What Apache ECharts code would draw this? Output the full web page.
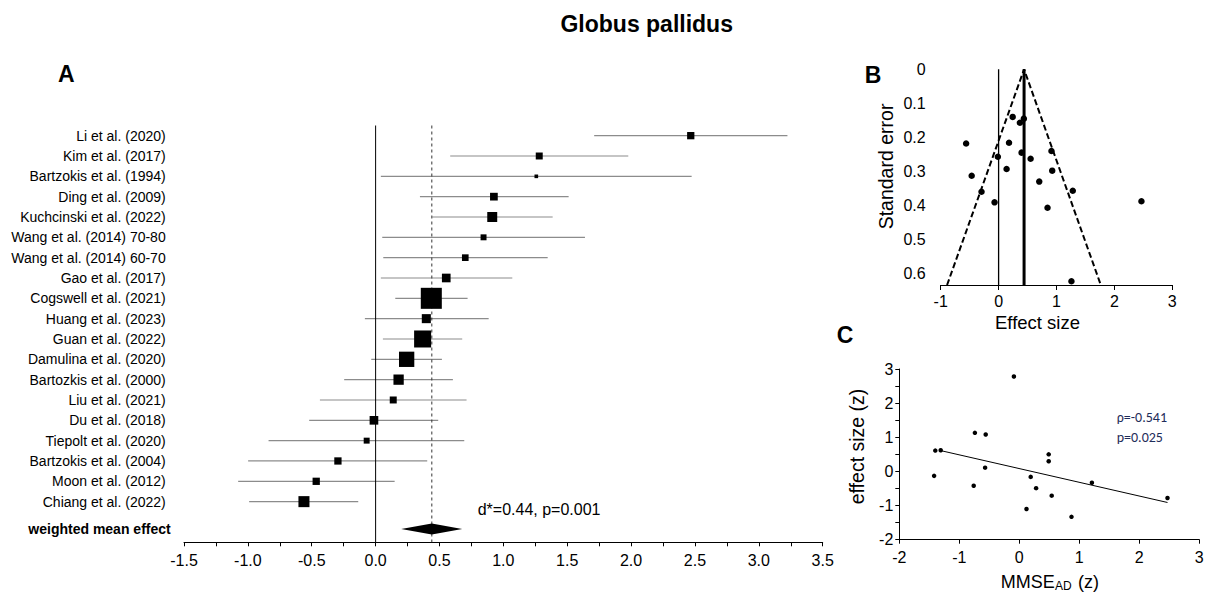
<!DOCTYPE html>
<html><head><meta charset="utf-8">
<script src="https://cdn.jsdelivr.net/npm/echarts@6/dist/echarts.min.js"></script>
<style>html,body{margin:0;padding:0;background:#fff}#c{width:1208px;height:593px}</style>
</head><body><div id="c"></div>
<script>
// ---------- Panel A: forest plot data ----------
const studies = ['Li et al. (2020)','Kim et al. (2017)','Bartzokis et al. (1994)','Ding et al. (2009)',
  'Kuchcinski et al. (2022)','Wang et al. (2014) 70-80','Wang et al. (2014) 60-70','Gao et al. (2017)',
  'Cogswell et al. (2021)','Huang et al. (2023)','Guan et al. (2022)','Damulina et al. (2020)',
  'Bartozkis et al. (2000)','Liu et al. (2021)','Du et al. (2018)','Tiepolt et al. (2020)',
  'Bartzokis et al. (2004)','Moon et al. (2012)','Chiang et al. (2022)'];
const effect = [2.467,1.281,1.258,0.926,0.913,0.845,0.702,0.553,0.436,0.397,0.368,0.243,0.180,0.138,-0.013,-0.070,-0.295,-0.465,-0.561];
const ciLow  = [1.711,0.584,0.041,0.347,0.443,0.052,0.060,0.041,0.154,-0.084,0.057,-0.034,-0.246,-0.436,-0.520,-0.838,-0.998,-1.076,-0.990];
const ciHigh = [3.224,1.978,2.474,1.511,1.386,1.639,1.347,1.070,0.720,0.885,0.678,0.519,0.605,0.712,0.490,0.694,0.404,0.149,-0.136];
const weight = [2.4,2.2,0.6,2.7,4.5,1.6,2.0,3.4,20.0,3.7,13.1,10.6,4.8,2.2,3.4,1.6,2.4,2.4,5.5]; // relative study weight (%)
const pooled = {d:0.44, low:0.20, high:0.678};
const forestTicks = {min:-1.5, max:3.5, step:0.5};

// ---------- Panel B: funnel plot data ----------
const stdErr = [0.388,0.357,0.623,0.298,0.240,0.407,0.330,0.263,0.145,0.245,0.157,0.140,0.216,0.293,0.257,0.391,0.360,0.313,0.218];
const funnelEdge = {bottomSE:0.634, leftX:-0.89, rightX:1.765};

// ---------- Panel C: meta-regression data ----------
const mmseZ = [-1.42,-1.40,-1.31,-0.74,-0.56,-0.76,-0.57,-0.09,0.19,0.28,0.49,0.49,0.54,0.12,0.87,1.21,2.47];
const esZ   = [-0.13,0.61,0.62,1.13,1.08,-0.42,0.11,2.78,-0.16,-0.49,0.50,0.30,-0.71,-1.10,-1.33,-0.33,-0.78];
const regLine = [[-1.31,0.61],[2.47,-0.91]];
const statText = ['ρ=-0.541','p=0.025'];

const FONT = '"Liberation Sans", Arial, Helvetica, sans-serif';
const chart = echarts.init(document.getElementById('c'), null, {renderer:'svg'});
const MEAN_ROW = 19.35;

const axisBlack = {lineStyle:{color:'#000', width:1}};

const option = {
  animation:false,
  backgroundColor:'#fff',
  textStyle:{fontFamily:FONT, color:'#000'},
  grid:[
    {left:184, top:125.5, width:638.7, height:416.8},
    {left:940.7, top:69.3, width:231.6, height:215.7},
    {left:899.3, top:369, width:300, height:170.7}
  ],
  xAxis:[
    {gridIndex:0, type:'value', min:forestTicks.min, max:forestTicks.max, interval:forestTicks.step,
     axisLine:{show:true, onZero:false, ...axisBlack}, axisTick:{show:true, length:4, ...axisBlack},
     minorTick:{show:true, splitNumber:2, length:4, ...axisBlack}, splitLine:{show:false},
     axisLabel:{fontSize:16, color:'#000', margin:10, fontFamily:FONT, formatter:v=>v.toFixed(1)}},
    {gridIndex:1, type:'value', min:-1, max:3, interval:1,
     axisLine:{show:true, onZero:false, ...axisBlack}, axisTick:{show:true, length:5, ...axisBlack},
     splitLine:{show:false}, axisLabel:{fontSize:16, color:'#000', margin:8, fontFamily:FONT}},
    {gridIndex:2, type:'value', min:-2, max:3, interval:1,
     axisLine:{show:true, onZero:false, ...axisBlack}, axisTick:{show:true, length:4, ...axisBlack},
     splitLine:{show:false}, axisLabel:{fontSize:16, color:'#000', margin:10, fontFamily:FONT}}
  ],
  yAxis:[
    {gridIndex:0, type:'value', inverse:true, min:-0.5, max:20, show:false},
    {gridIndex:1, type:'value', inverse:true, min:0, max:funnelEdge.bottomSE, interval:0.1,
     axisLine:{show:false}, axisTick:{show:false}, splitLine:{show:false},
     axisLabel:{fontSize:16, color:'#000', margin:15, fontFamily:FONT, showMaxLabel:false,
       formatter:v=> (Math.abs(v)<1e-9 ? '0' : v.toFixed(1))}},
    {gridIndex:2, type:'value', min:-2, max:3, interval:1,
     axisLine:{show:true, onZero:false, ...axisBlack}, axisTick:{show:true, length:4, ...axisBlack},
     minorTick:{show:true, splitNumber:2, length:4, ...axisBlack}, splitLine:{show:false},
     axisLabel:{fontSize:16, color:'#000', margin:6, fontFamily:FONT}}
  ],
  series:[
    // confidence intervals
    {type:'custom', xAxisIndex:0, yAxisIndex:0, z:2,
     data: studies.map((s,i)=>[ciLow[i], ciHigh[i], i]),
     encode:{x:[0,1], y:2},
     renderItem:(params, api)=>{
       const a = api.coord([api.value(0), api.value(2)]);
       const b = api.coord([api.value(1), api.value(2)]);
       return {type:'line', shape:{x1:a[0], y1:a[1], x2:b[0], y2:b[1]},
               style:{stroke:'#8c8c8c', lineWidth:1.2}};
     }},
    // zero line
    {type:'line', xAxisIndex:0, yAxisIndex:0, z:3, showSymbol:false, symbol:'none',
     data:[[0,-0.5],[0,20]], lineStyle:{color:'#000', width:1}},
    // pooled effect dashed line
    {type:'line', xAxisIndex:0, yAxisIndex:0, z:3, showSymbol:false, symbol:'none',
     data:[[pooled.d,-0.5],[pooled.d,20]], lineStyle:{color:'#333', width:1, type:[3,3]}},
    // study markers
    {type:'scatter', xAxisIndex:0, yAxisIndex:0, z:5, symbol:'rect',
     data: studies.map((s,i)=>[effect[i], i, weight[i]]),
     symbolSize:v=>4.7*Math.sqrt(v[2]), itemStyle:{color:'#000', opacity:1}},
    // pooled diamond
    {type:'custom', xAxisIndex:0, yAxisIndex:0, z:6,
     data:[[pooled.low, pooled.d, pooled.high, MEAN_ROW]],
     encode:{x:[0,1,2], y:3},
     renderItem:(params, api)=>{
       const l = api.coord([api.value(0), api.value(3)]);
       const c = api.coord([api.value(1), api.value(3)]);
       const r = api.coord([api.value(2), api.value(3)]);
       const h = 5.5;
       return {type:'polygon', shape:{points:[[l[0],l[1]],[c[0],c[1]-h],[r[0],r[1]],[c[0],c[1]+h]]},
               style:{fill:'#000'}};
     }},
    // study labels
    {type:'custom', xAxisIndex:0, yAxisIndex:0, z:6,
     data: studies.map((s,i)=>[forestTicks.min, i, s]),
     encode:{x:0, y:1},
     renderItem:(params, api)=>{
       const p = api.coord([api.value(0), api.value(1)]);
       return {type:'text', x:p[0]-18.3, y:p[1],
               style:{text:studies[params.dataIndex], fill:'#000', font:'14px '+FONT,
                      align:'right', verticalAlign:'middle'}};
     }},

    // ---- Panel B ----
    {type:'line', xAxisIndex:1, yAxisIndex:1, z:3, showSymbol:false, symbol:'none',
     data:[[0,0],[0,funnelEdge.bottomSE]], lineStyle:{color:'#000', width:1.3}},
    {type:'line', xAxisIndex:1, yAxisIndex:1, z:3, showSymbol:false, symbol:'none',
     data:[[pooled.d,0],[pooled.d,funnelEdge.bottomSE]], lineStyle:{color:'#000', width:3}},
    {type:'line', xAxisIndex:1, yAxisIndex:1, z:3, showSymbol:false, symbol:'none',
     data:[[funnelEdge.leftX,funnelEdge.bottomSE],[pooled.d,0],[funnelEdge.rightX,funnelEdge.bottomSE]],
     lineStyle:{color:'#000', width:2, type:[6,3]}},
    {type:'scatter', xAxisIndex:1, yAxisIndex:1, z:5, symbol:'circle', symbolSize:6.5,
     data: studies.map((s,i)=>[effect[i], stdErr[i]]), itemStyle:{color:'#000', opacity:1}},

    // ---- Panel C ----
    {type:'line', xAxisIndex:2, yAxisIndex:2, z:3, showSymbol:false, symbol:'none',
     data:regLine, lineStyle:{color:'#000', width:1}},
    {type:'scatter', xAxisIndex:2, yAxisIndex:2, z:5, symbol:'circle', symbolSize:4.5,
     data: mmseZ.map((x,i)=>[x, esZ[i]]), itemStyle:{color:'#000', opacity:1}}
  ],
  graphic:[
    {type:'text', x:646.7, y:24, style:{text:'Globus pallidus', font:'bold 23px '+FONT, fill:'#000', align:'center', verticalAlign:'middle'}},
    {type:'text', x:66.3, y:74, style:{text:'A', font:'bold 23px '+FONT, fill:'#000', align:'center', verticalAlign:'middle'}},
    {type:'text', x:873, y:75, style:{text:'B', font:'bold 23px '+FONT, fill:'#000', align:'center', verticalAlign:'middle'}},
    {type:'text', x:845, y:335, style:{text:'C', font:'bold 23px '+FONT, fill:'#000', align:'center', verticalAlign:'middle'}},
    {type:'text', x:170.7, y:528.5, style:{text:'weighted mean effect', font:'bold 14px '+FONT, fill:'#000', align:'right', verticalAlign:'middle'}},
    {type:'text', x:477.7, y:509, style:{text:'d*=0.44, p=0.001', font:'16px '+FONT, fill:'#000', align:'left', verticalAlign:'middle'}},
    {type:'text', x:886, y:166.5, rotation:Math.PI/2, style:{text:'Standard error', font:'19.5px '+FONT, fill:'#000', align:'center', verticalAlign:'middle'}},
    {type:'text', x:1037.5, y:322, style:{text:'Effect size', font:'18.5px '+FONT, fill:'#000', align:'center', verticalAlign:'middle'}},
    {type:'text', x:857, y:446.5, rotation:Math.PI/2, style:{text:'effect size (z)', font:'19.5px '+FONT, fill:'#000', align:'center', verticalAlign:'middle'}},
    {type:'text', x:1000.7, y:581.5, style:{text:'MMSE', font:'18px '+FONT, fill:'#000', align:'left', verticalAlign:'middle'}},
    {type:'text', x:1055, y:586, style:{text:'AD', font:'12px '+FONT, fill:'#000', align:'left', verticalAlign:'middle'}},
    {type:'text', x:1078, y:581.5, style:{text:'(z)', font:'18px '+FONT, fill:'#000', align:'left', verticalAlign:'middle'}},
    {type:'text', x:1116.7, y:417.7, style:{text:statText[0], font:'14px Carlito, Lato, "Noto Sans", sans-serif', fill:'#1f2d5a', align:'left', verticalAlign:'middle'}},
    {type:'text', x:1116.7, y:437.3, style:{text:statText[1], font:'14px Carlito, Lato, "Noto Sans", sans-serif', fill:'#1f2d5a', align:'left', verticalAlign:'middle'}}
  ]
};
chart.setOption(option);
</script>
</body></html>
